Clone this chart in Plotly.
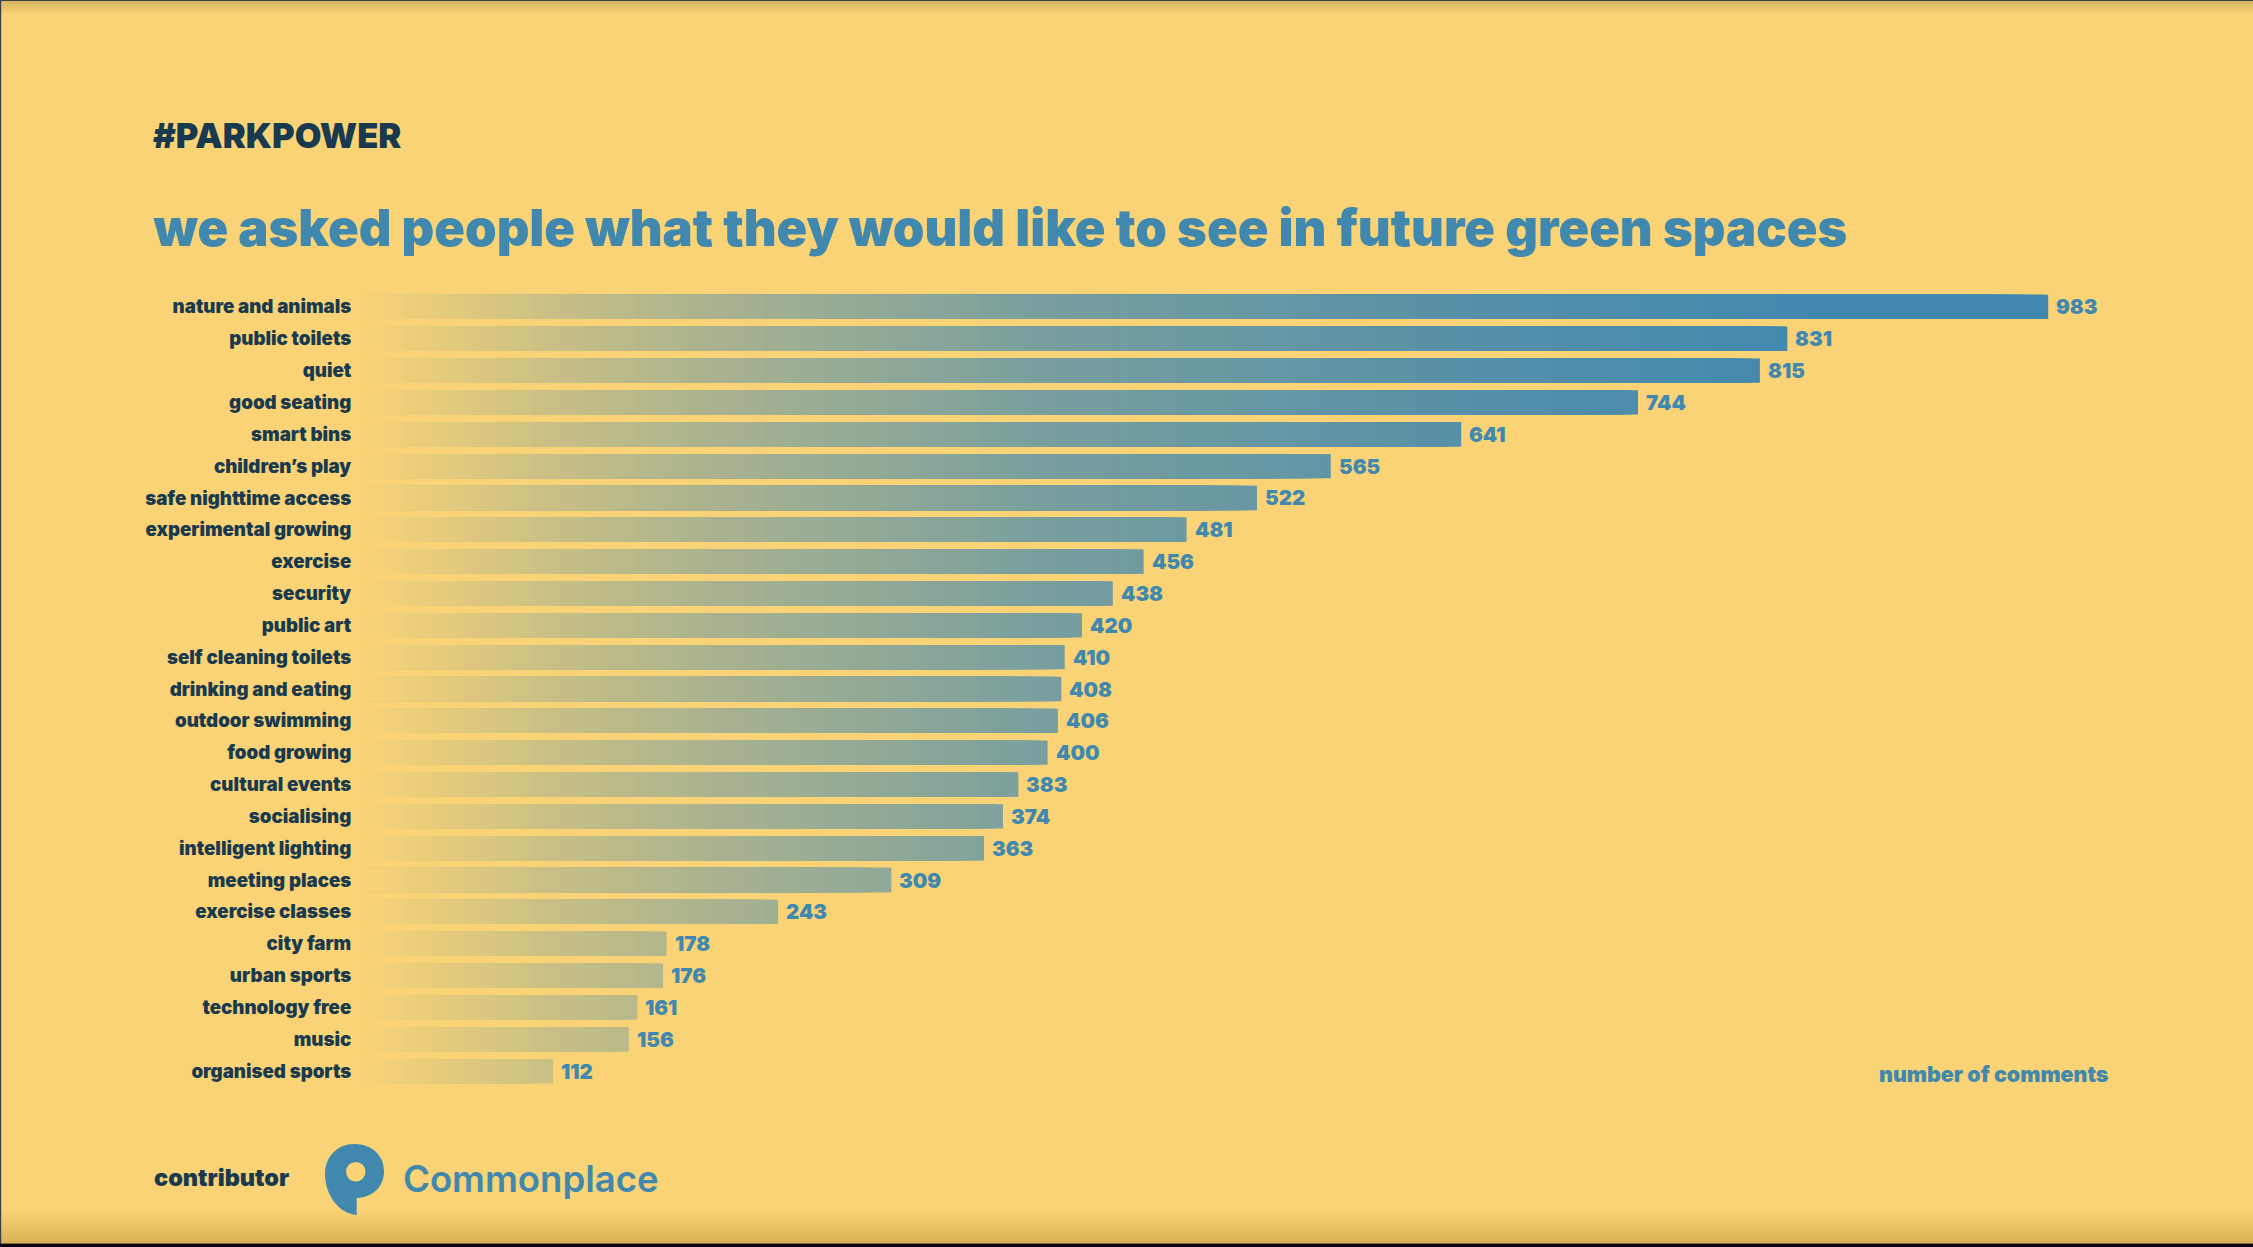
import numpy as np
import plotly.graph_objects as go

categories = ["nature and animals", "public toilets", "quiet", "good seating", "smart bins",
              "children’s play", "safe nighttime access", "experimental growing", "exercise",
              "security", "public art", "self cleaning toilets", "drinking and eating",
              "outdoor swimming", "food growing", "cultural events", "socialising",
              "intelligent lighting", "meeting places", "exercise classes", "city farm",
              "urban sports", "technology free", "music", "organised sports"]
comments = [983, 831, 815, 744, 641, 565, 522, 481, 456, 438, 420, 410, 408, 406, 400,
            383, 374, 363, 309, 243, 178, 176, 161, 156, 112]

BG = (249, 211, 118)
BLUE = (65, 136, 175)
DARK = "#193A4E"
BLUE_HEX = "#4188AF"
BG_HEX = "rgb(%d,%d,%d)" % BG
FONT = "Inter"
W, H = 2253, 1247
L, R, T, B = 361.0, 2049.0, 291.0, 1087.0
X_MAX = (R - L) / 1.7164
STEP_VALUES = [0, 15, 112, 200, 400, 650, 850, 1000]
STEP_MIX = [0, 0.02, 0.26, 0.42, 0.70, 0.89, 1, 1]


def ramp(v):
    m = np.interp(v, STEP_VALUES, STEP_MIX)
    return "rgb(%d,%d,%d)" % tuple(round(a + (b - a) * m) for a, b in zip(BG, BLUE))


def px(x):
    return (x - L) / (R - L)


def py(y):
    return (B - y) / (B - T)


fig = go.Figure()
fig.add_bar(
    x=comments, y=categories, orientation="h",
    marker=dict(color=[ramp(v) for v in comments], line_width=0),
    hoverinfo="x+y", showlegend=False,
)
# gradient: painted longest to shortest so every bar fades out towards the axis
grad_x, grad_y, grad_c = [], [], []
for t in np.arange(1000, 0, -5):
    for c, v in zip(categories, comments):
        if v > t:
            grad_x.append(float(t)); grad_y.append(c); grad_c.append(ramp(t))
fig.add_bar(x=grad_x, y=grad_y, orientation="h", marker=dict(color=grad_c, line_width=0),
            hoverinfo="skip", showlegend=False)


def rect(x0, y0, x1, y1, color):
    return dict(type="rect", xref="paper", yref="paper", x0=px(x0), x1=px(x1), y0=py(y0), y1=py(y1),
                fillcolor=color, line_width=0, layer="below")


def note(text, x, y, anchor, size, color, weight=900):
    return dict(text=text, x=px(x), y=py(y), xref="paper", yref="paper", xanchor=anchor, yanchor="middle",
                showarrow=False, font=dict(family=FONT, size=size, color=color, weight=weight))


shapes = []
for i in range(12):
    shapes.append(rect(0, 1, W, 1 + (12 - i), "rgba(120,90,40,0.018)"))
for i in range(16):
    shapes.append(rect(0, 1243 - (32 - 2 * i), W, 1243, "rgba(120,90,40,0.012)"))
shapes += [rect(0, 0, W, 1, "#3a3f4a"), rect(0, 0, 1.2, H, "#3a3f4a"), rect(0, 1243.4, W, H, "#0b0610")]


def P(x, y):
    return "%.5f,%.5f" % (px(x), py(y))


logo_path = " ".join(["M" + P(356.7, 1215), "L" + P(356.7, 1198),
                      "C" + P(374, 1197), P(384, 1186), P(384, 1171),
                      "C" + P(384, 1155), P(371, 1144), P(354.5, 1144),
                      "C" + P(337, 1144), P(325, 1157), P(325, 1174),
                      "C" + P(325, 1196), P(340, 1214), P(356.7, 1215), "Z"])
shapes += [
    dict(type="path", xref="paper", yref="paper", line_width=0, fillcolor=BLUE_HEX, layer="above", path=logo_path),
    dict(type="circle", xref="paper", yref="paper", line_width=0, fillcolor=BG_HEX, layer="above",
         x0=px(346), x1=px(365.5), y0=py(1181.5), y1=py(1162)),
]

value_labels = [dict(text=str(v), x=v, y=c, xref="x", yref="y", xanchor="left", yanchor="middle", xshift=6,
                     showarrow=False, font=dict(family=FONT, size=20.5, color=BLUE_HEX, weight=900))
                for c, v in zip(categories, comments)]

fig.update_layout(
    width=W, height=H, autosize=False,
    margin=dict(l=L, r=W - R, t=T, b=H - B, autoexpand=False),
    paper_bgcolor=BG_HEX, plot_bgcolor="rgba(0,0,0,0)",
    barmode="overlay", bargap=0.235, showlegend=False,
    title=dict(text="we asked people what they would like to see in future green spaces",
               x=153.5 / W, xanchor="left", xref="container", y=1 - 246 / H, yanchor="bottom", yref="container",
               font=dict(family=FONT, size=50.7, color=BLUE_HEX, weight=900)),
    xaxis=dict(range=[0, X_MAX], visible=False, fixedrange=True),
    yaxis=dict(categoryorder="array", categoryarray=categories, autorange=False, range=[24.5, -0.5],
               showgrid=False, zeroline=False, showline=False, ticks="outside", ticklen=5,
               tickcolor=BG_HEX, fixedrange=True,
               tickfont=dict(family=FONT, size=18.7, color=DARK, weight=900)),
    shapes=shapes,
    annotations=[
        note("#PARKPOWER", 151, 135.5, "left", 34.5, DARK),
        note("number of comments", 2111, 1074, "right", 21.4, BLUE_HEX),
        note("contributor", 152, 1177, "left", 23.5, DARK),
        note("Commonplace", 401, 1179, "left", 36.5, BLUE_HEX, 600),
    ] + value_labels,
)

fig.write_html("out.html", config=dict(displayModeBar=False),
               post_script="document.body.style.margin='0';document.body.style.overflow='hidden';")
